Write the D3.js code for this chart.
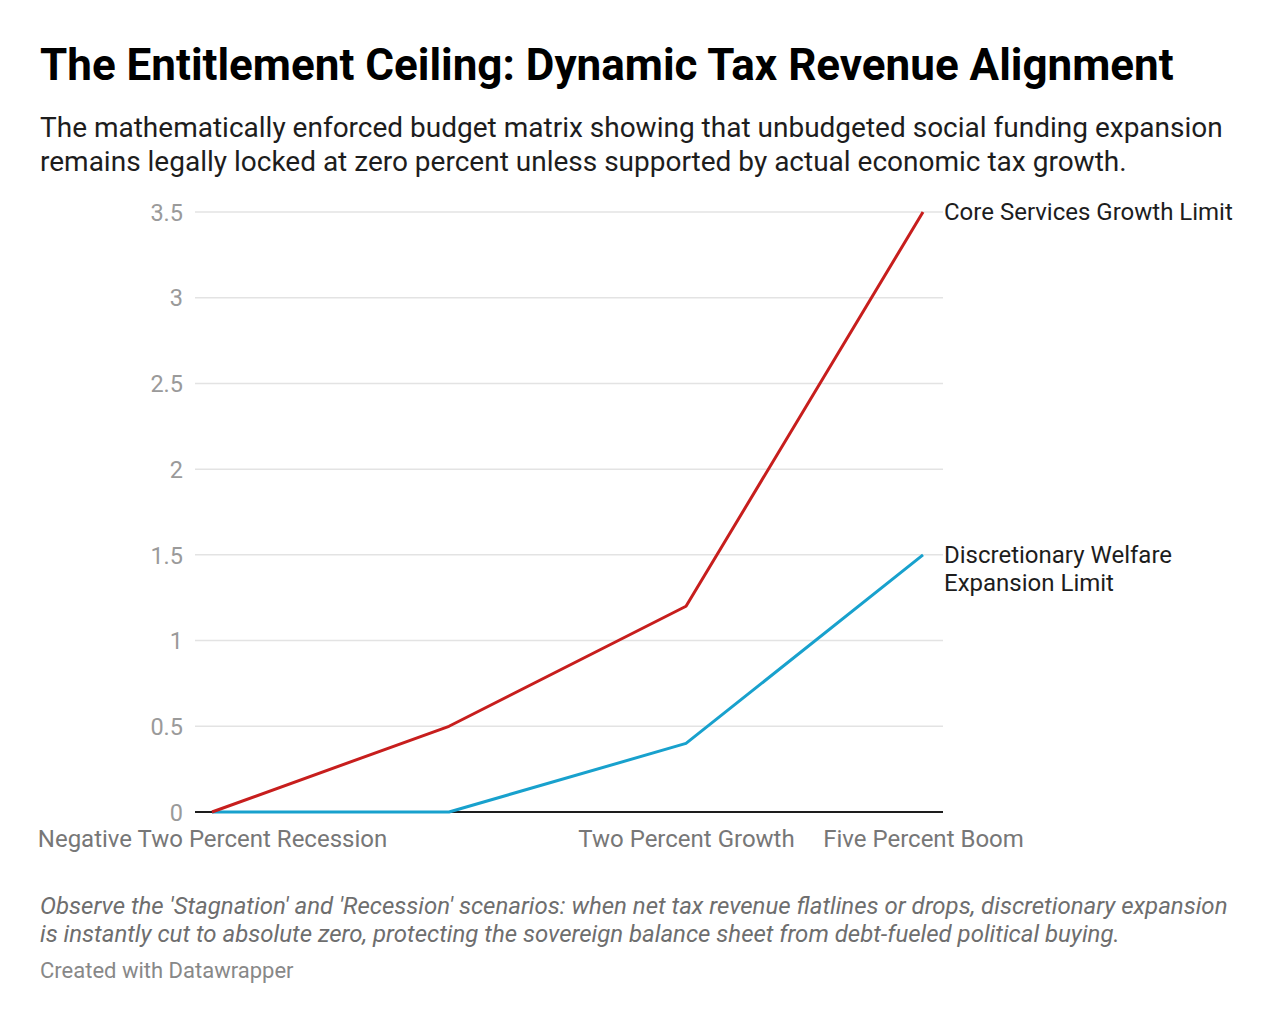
<!DOCTYPE html>
<html>
<head>
<meta charset="utf-8">
<script src="https://cdn.jsdelivr.net/npm/d3@7"></script>
<style>
  body { margin: 0; background: #fff; font-family: Roboto, "Noto Sans", sans-serif; }
  svg text { font-family: Roboto, "Noto Sans", sans-serif; }
</style>
</head>
<body>
<div id="chart-area"></div>
<script>
// scenario categories and the two limits
var scenarios = ["Negative Two Percent Recession", "Zero Percent Stagnation", "Two Percent Growth", "Five Percent Boom"];
var coreServices = [0, 0.5, 1.2, 3.5];
var welfareExpansion = [0, 0, 0.4, 1.5];
var yTicks = [0, 0.5, 1, 1.5, 2, 2.5, 3, 3.5];

var series = [
  {name: ["Core Services Growth Limit"], values: coreServices, color: "#c71e1d"},
  {name: ["Discretionary Welfare", "Expansion Limit"], values: welfareExpansion, color: "#18a1cd"}
];

var width = 1280, height = 1024;

var svg = d3.select("#chart-area")
  .append("svg")
  .attr("width", width)
  .attr("height", height)

svg.append("text")
  .attr("x", 40).attr("y", 80)
  .attr("font-size", "44px")
  .attr("font-weight", "bold")
  .attr("fill", "#000")
  .text("The Entitlement Ceiling: Dynamic Tax Revenue Alignment")

var sub = svg.append("text")
  .attr("font-size", "28px")
  .attr("fill", "#1d1d1d")
sub.append("tspan").attr("x", 40).attr("y", 137)
  .text("The mathematically enforced budget matrix showing that unbudgeted social funding expansion")
sub.append("tspan").attr("x", 40).attr("y", 171)
  .text("remains legally locked at zero percent unless supported by actual economic tax growth.")

var x = d3.scalePoint()
  .domain(scenarios)
  .range([212, 923])

var y = d3.scaleLinear()
  .domain([0, 3.5])
  .range([812, 212])

var g = svg.append("g")

// gridlines
g.append("g")
  .selectAll("line")
  .data(yTicks.filter(d => d > 0))
  .enter()
  .append("line")
  .attr("x1", 195).attr("x2", 943)
  .attr("y1", d => y(d)).attr("y2", d => y(d))
  .attr("stroke", "#e3e3e3")
  .attr("stroke-width", 1.5)

var yAxis = d3.axisLeft(y)
  .tickValues(yTicks)
  .tickSize(0)
  .tickPadding(0)
  .tickFormat(d3.format(""))

var yAxisG = g.append("g")
  .attr("transform", "translate(183,0)")
  .call(yAxis)
yAxisG.select(".domain").remove()
yAxisG.selectAll("text")
  .attr("font-size", "23.5px")
  .attr("fill", "#9a9a9a")
  .attr("dy", "0.35em")

// baseline
g.append("line")
  .attr("x1", 195).attr("x2", 943)
  .attr("y1", y(0)).attr("y2", y(0))
  .attr("stroke", "#1d1d1d")
  .attr("stroke-width", 2)

var xAxis = d3.axisBottom(x).tickSize(0).tickPadding(0)
var xAxisG = g.append("g")
  .attr("transform", "translate(0," + (y(0) + 35) + ")")
  .call(xAxis)
xAxisG.select(".domain").remove()
xAxisG.selectAll("text")
  .attr("font-size", "24px")
  .attr("fill", "#777")
  .attr("dy", "0")

// drop labels that would overlap the previous visible label
var lastRight = -Infinity
xAxisG.selectAll(".tick").each(function () {
  var b = this.getBoundingClientRect()
  if (b.left < lastRight + 8) {
    d3.select(this).remove()
  } else {
    lastRight = b.right
  }
})

var line = d3.line()
  .x((d, i) => x(scenarios[i]))
  .y(d => y(d))

g.append("g")
  .selectAll("path")
  .data(series.slice().reverse())
  .enter()
  .append("path")
  .attr("d", d => line(d.values))
  .attr("fill", "none")
  .attr("stroke", d => d.color)
  .attr("stroke-width", 3)
  .attr("stroke-linejoin", "round")

// direct labels
var labels = g.append("g")
  .selectAll("text")
  .data(series)
  .enter()
  .append("text")
  .attr("font-size", "24px")
  .attr("fill", "#1d1d1d")
  .attr("transform", d => "translate(" + (x(scenarios[scenarios.length - 1]) + 21) + "," + y(d.values[d.values.length - 1]) + ")")
labels.selectAll("tspan")
  .data(d => d.name)
  .enter()
  .append("tspan")
  .attr("x", 0)
  .attr("y", (d, i) => i * 28)
  .attr("dy", "0.35em")
  .text(d => d)

var note = svg.append("text")
  .attr("font-size", "24px")
  .attr("font-style", "italic")
  .attr("fill", "#6e6e6e")
note.append("tspan").attr("x", 40).attr("y", 914)
  .text("Observe the 'Stagnation' and 'Recession' scenarios: when net tax revenue flatlines or drops, discretionary expansion")
note.append("tspan").attr("x", 40).attr("y", 942)
  .text("is instantly cut to absolute zero, protecting the sovereign balance sheet from debt-fueled political buying.")

svg.append("text")
  .attr("x", 40).attr("y", 978)
  .attr("font-size", "22px")
  .attr("fill", "#888")
  .text("Created with Datawrapper")
</script>
</body>
</html>
